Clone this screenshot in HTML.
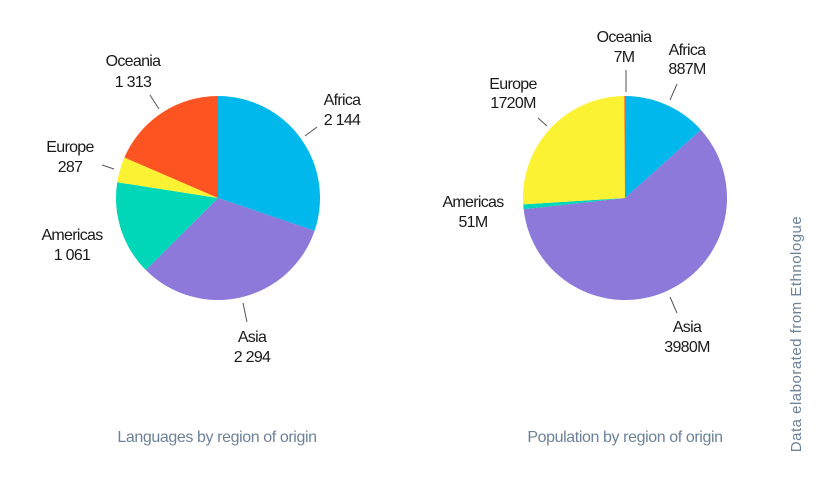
<!DOCTYPE html>
<html><head><meta charset="utf-8"><style>
html,body{margin:0;padding:0;background:#fff;}
svg{display:block;font-family:"Liberation Sans",sans-serif;}
.l{font-size:16px;fill:#1a1a1a;text-anchor:middle;letter-spacing:-0.7px}
.c{font-size:16px;fill:#6d8299;text-anchor:middle;letter-spacing:-0.4px}
line{stroke:#555;stroke-width:1}
</style></head><body>
<svg id="s" width="821" height="488" viewBox="0 0 821 488">
<g id="pies"></g>
<line x1="305" y1="136" x2="317" y2="127"/>
<line x1="159" y1="109" x2="150" y2="95"/>
<line x1="114" y1="169" x2="102" y2="165"/>
<line x1="247" y1="322" x2="243" y2="303"/>
<line x1="626" y1="70" x2="626" y2="92"/>
<line x1="677" y1="84" x2="670" y2="100"/>
<line x1="538" y1="118" x2="547" y2="126"/>
<line x1="670" y1="297" x2="677" y2="313"/>
<text class="l" x="133" y="66">Oceania</text><text class="l" x="133" y="87">1 313</text>
<text class="l" x="342" y="105">Africa</text><text class="l" x="342" y="125">2 144</text>
<text class="l" x="70" y="152">Europe</text><text class="l" x="70" y="172">287</text>
<text class="l" x="72" y="240">Americas</text><text class="l" x="72" y="260">1 061</text>
<text class="l" x="252" y="342">Asia</text><text class="l" x="252" y="362">2 294</text>
<text class="l" x="624" y="42">Oceania</text><text class="l" x="624" y="62">7M</text>
<text class="l" x="687" y="55">Africa</text><text class="l" x="687" y="74">887M</text>
<text class="l" x="513" y="89">Europe</text><text class="l" x="513" y="108">1720M</text>
<text class="l" x="473" y="207">Americas</text><text class="l" x="473" y="227">51M</text>
<text class="l" x="687" y="332">Asia</text><text class="l" x="687" y="352">3980M</text>
<text class="c" x="217" y="442">Languages by region of origin</text>
<text class="c" x="625" y="442">Population by region of origin</text>
<text class="c" transform="translate(801,334) rotate(-90)" style="letter-spacing:0.5px;font-size:15px">Data elaborated  from  Ethnologue</text>
</svg>
<script>
var cols={Af:"#00b8ec",As:"#8c79d9",Am:"#00d6b8",Eu:"#fbf234",Oc:"#fe5421"};
function pie(cx,cy,r,data){
 var tot=data.reduce(function(a,d){return a+d[1]},0),a=0,out="";
 data.forEach(function(d){
  var a0=a,a1=a+d[1]/tot*2*Math.PI;a=a1;
  var x0=cx+r*Math.sin(a0),y0=cy-r*Math.cos(a0),x1=cx+r*Math.sin(a1),y1=cy-r*Math.cos(a1);
  out+='<path fill="'+cols[d[0]]+'" d="M'+cx+' '+cy+'L'+x0+' '+y0+'A'+r+' '+r+' 0 '+((a1-a0)>Math.PI?1:0)+' 1 '+x1+' '+y1+'Z"/>';
 });
 return out;
}
document.getElementById("pies").innerHTML=
 pie(218,198,102,[["Af",2144],["As",2294],["Am",1061],["Eu",287],["Oc",1313]])+
 pie(625,198,102,[["Af",887],["As",3980],["Am",51],["Eu",1720],["Oc",7]]);
</script>
</body></html>
